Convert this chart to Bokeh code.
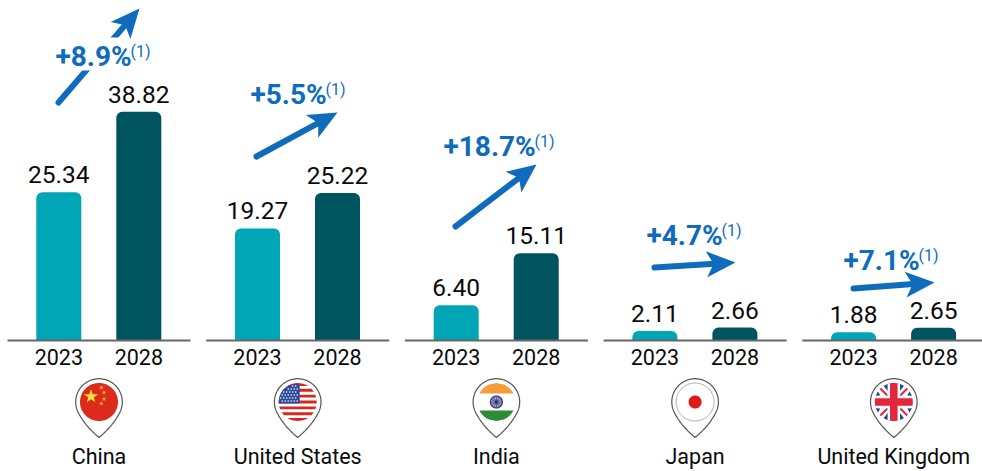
import numpy as np
from bokeh.plotting import figure
from bokeh.models import Range1d
from bokeh.core.properties import value
from bokeh.embed import file_html
from bokeh.resources import INLINE

countries = ["China", "United States", "India", "Japan", "United Kingdom"]
years = ["2023", "2028"]
values_2023 = [25.34, 19.27, 6.40, 2.11, 1.88]
values_2028 = [38.82, 25.22, 15.11, 2.66, 2.65]
labels_2023 = ["25.34", "19.27", "6.40", "2.11", "1.88"]
labels_2028 = ["38.82", "25.22", "15.11", "2.66", "2.65"]
growth = ["+8.9%", "+5.5%", "+18.7%", "+4.7%", "+7.1%"]

W, H = 982, 471
BASE_PX = 340
ZERO_PX = 343
PX_PER_UNIT = 5.97
STEP = 198.7
X_A, X_B, X_PIN = 58.3, 138.3, 98.5
BAR_W = 45
TEAL, DARK, BLUE = "#00a6b6", "#00545f", "#0f6cbd"
FLOOR = (ZERO_PX - BASE_PX) / PX_PER_UNIT
MID = 0.35  # distance from baseline to the middle of the digits, per font px

p = figure(width=W, height=H, output_backend="svg", toolbar_location=None,
           x_range=Range1d(0, W),
           y_range=Range1d((ZERO_PX - H) / PX_PER_UNIT, ZERO_PX / PX_PER_UNIT),
           min_border=0, outline_line_color=None, background_fill_color="white",
           border_fill_color="white")
p.axis.visible = False
p.grid.visible = False
p.extra_y_ranges["px"] = Range1d(H, 0)
PX = dict(y_range_name="px")

xa = [X_A + i * STEP for i in range(5)]
xb = [X_B + i * STEP for i in range(5)]
xp = [X_PIN + i * STEP for i in range(5)]

# arrows (tail x, tail y, tip x, tip y) in page pixels
arrows = [(58, 102, 139, 8), (256, 156, 337, 112), (455, 226, 536, 164),
          (654, 267, 735, 262), (853, 288, 934, 282)]
for x0, y0, x1, y1 in arrows:
    d = np.array([x1 - x0, y1 - y0], float)
    L = np.hypot(*d); u = d / L; n = np.array([-u[1], u[0]])
    tip = np.array([x1, y1], float)
    notch = tip - u * 22
    a = tip - u * 29 + n * 13
    b = tip - u * 29 - n * 13
    p.line([x0, notch[0] + u[0]], [y0, notch[1] + u[1]], line_color=BLUE, line_width=6,
           line_cap="round", **PX)
    p.patch([tip[0], a[0], notch[0], b[0]], [tip[1], a[1], notch[1], b[1]],
            color=BLUE, line_width=0, **PX)

# growth labels
g_x = [55, 250, 443, 646, 843]
g_y = [65.5, 103.5, 155.5, 245, 270]
s_x = [130, 325, 534, 721, 918]
p.quad(left=[g_x[0] - 1], right=[s_x[0] - 1], top=[37], bottom=[70], color="white", line_width=0, **PX)
p.text(g_x, [y - 28 * MID for y in g_y], text=growth, text_color=BLUE, text_font=value("Roboto"),
       text_font_style="bold", text_font_size="28px", text_baseline="middle", text_align="left", **PX)
p.text(s_x, [y - 9 - 16 * MID for y in g_y], text=["(1)"] * 5, text_color=BLUE, text_font=value("Roboto"),
       text_font_size="16px", text_baseline="middle", text_align="left", **PX)

# bars
p.vbar(x=xa, top=values_2023, bottom=FLOOR, width=BAR_W, color=TEAL, line_width=0,
       border_radius=(6, 6, 0, 0))
p.vbar(x=xb, top=values_2028, bottom=FLOOR, width=BAR_W, color=DARK, line_width=0,
       border_radius=(6, 6, 0, 0))

# value labels
vstyle = dict(text_color="#0a0a0a", text_font=value("Roboto"), text_font_size="24.5px",
              text_align="center", text_baseline="middle", y_offset=-(9 + 24.5 * MID))
p.text(xa, values_2023, text=labels_2023, **vstyle)
p.text(xb, values_2028, text=labels_2028, **vstyle)

# baselines
for i in range(5):
    p.line([7 + i * STEP, 190 + i * STEP], [BASE_PX, BASE_PX], line_color="#666666", line_width=2, **PX)

# year and country labels
ystyle = dict(text_color="#0a0a0a", text_font=value("Roboto"), text_font_size="21.5px",
              text_align="center", text_baseline="middle", **PX)
p.text(xa, [364.5 - 21.5 * MID] * 5, text=[years[0]] * 5, **ystyle)
p.text(xb, [364.5 - 21.5 * MID] * 5, text=[years[1]] * 5, **ystyle)
p.text(xp, [464 - 21.5 * MID] * 5, text=countries, **ystyle)

# pins and flags
CY, R, RO, TIP = 401.5, 19, 23.3, 437


def pin(cx):
    t = np.radians(np.linspace(-25, 205, 60))
    xs = cx + RO * np.cos(t)
    ys = CY - RO * np.sin(t)
    s = np.linspace(0, 1, 14)[1:]
    P0 = np.array([xs[-1], ys[-1]])
    C0 = np.array([cx - 14, CY + 24])
    T = np.array([cx, TIP])
    lx = (1 - s) ** 2 * P0[0] + 2 * s * (1 - s) * C0[0] + s ** 2 * T[0]
    ly = (1 - s) ** 2 * P0[1] + 2 * s * (1 - s) * C0[1] + s ** 2 * T[1]
    rx = 2 * cx - lx[::-1][1:]
    ry = ly[::-1][1:]
    p.patch(np.r_[xs, lx, rx].tolist(), np.r_[ys, ly, ry].tolist(),
            fill_color="white", line_color="#555555", line_width=1.2, **PX)


def disc(cx, r=R, **kw):
    t = np.linspace(0, 2 * np.pi, 90)
    p.patch(cx + r * np.cos(t), CY + r * np.sin(t), line_width=0, **kw, **PX)


def hband(cx, y0, y1, color, xmax=None):
    ys = np.linspace(y0, y1, 8)
    hw = np.sqrt(np.maximum(R ** 2 - ys ** 2, 0))
    right = hw if xmax is None else np.minimum(hw, xmax)
    p.patch(np.r_[cx - hw, (cx + right)[::-1]], np.r_[CY + ys, (CY + ys)[::-1]],
            color=color, line_width=0, **PX)


def vband(cx, x0, x1, color):
    xs = np.linspace(x0, x1, 8)
    hh = np.sqrt(np.maximum(R ** 2 - xs ** 2, 0))
    p.patch(np.r_[cx + xs, (cx + xs)[::-1]], np.r_[CY - hh, (CY + hh)[::-1]],
            color=color, line_width=0, **PX)


def sector(cx, a0, a1, color, r0=0.0):
    t = np.radians(np.linspace(a0, a1, 10))
    m = np.radians((a0 + a1) / 2)
    p.patch(np.r_[cx + r0 * np.cos(m), cx + R * np.cos(t)],
            np.r_[CY - r0 * np.sin(m), CY - R * np.sin(t)], color=color, line_width=0, **PX)


for cx in xp:
    pin(cx)

# China
c = xp[0]
disc(c, fill_color="#dc2a1c")
p.scatter([c - 8], [CY - 5.5], marker="star", size=15, color="#f7e03c", line_width=0, **PX)
p.scatter([c + 2.3, c + 5, c + 5, c + 2.3], [CY - 14.5, CY - 9.5, CY - 3, CY + 1.5], marker="star",
          size=5, color="#f5b52e", line_width=0, **PX)

# United States
c = xp[1]
disc(c, fill_color="white")
h = 2 * R / 13
for k in range(0, 13, 2):
    hband(c, -R + k * h, -R + (k + 1) * h, "#d5281f")
hband(c, -R, 1.5, "#2c4a9a", xmax=2)
sx, sy = [], []
for row in range(6):
    for col in range(7):
        sx.append(c - 17 + col * 3 + (row % 2) * 1.5)
        sy.append(CY - 16 + row * 3)
keep = [(a, b) for a, b in zip(sx, sy) if (a - c) ** 2 + (b - CY) ** 2 < (R - 1.5) ** 2 and a < c + 1]
p.scatter([a for a, b in keep], [b for a, b in keep], marker="circle", size=1.6, color="white", line_width=0, **PX)

# India
c = xp[2]
disc(c, fill_color="white")
hband(c, -R, -8.5, "#f59c3c")
hband(c, 8.5, R, "#2f8a35")
disc(c, r=6.6, fill_color="#3f3f80")
disc(c, r=5.2, fill_color="#a9a9cf")
for a in np.radians(np.arange(0, 360, 30)):
    p.line([c, c + 5.5 * np.cos(a)], [CY, CY + 5.5 * np.sin(a)], line_color="#3f3f80", line_width=0.8, **PX)
disc(c, r=1.6, fill_color="#2c2c66")

# Japan
c = xp[3]
t = np.linspace(0, 2 * np.pi, 90)
p.line(c + R * np.cos(t), CY + R * np.sin(t), line_color="#999999", line_width=0.8, **PX)
disc(c, r=6.5, fill_color="#e01b1b")

# United Kingdom
c = xp[4]
disc(c, fill_color="white")
for a0, a1 in [(58, 82), (98, 122), (238, 262), (278, 302)]:
    sector(c, a0, a1, "#23479c", r0=6)
for a0, a1 in [(18, 34), (146, 162), (198, 214), (326, 342)]:
    sector(c, a0, a1, "#23479c", r0=15)
for a in (45, 135, 225, 315):
    ar = np.radians(a)
    p.line([c, c + R * np.cos(ar)], [CY, CY - R * np.sin(ar)], line_color="#e3263c", line_width=2, **PX)
hband(c, -6.2, 6.2, "white")
vband(c, -6.2, 6.2, "white")
hband(c, -3.8, 3.8, "#e3263c")
vband(c, -3.8, 3.8, "#e3263c")

html = file_html(p, INLINE)
open("out.html", "w").write(html)
